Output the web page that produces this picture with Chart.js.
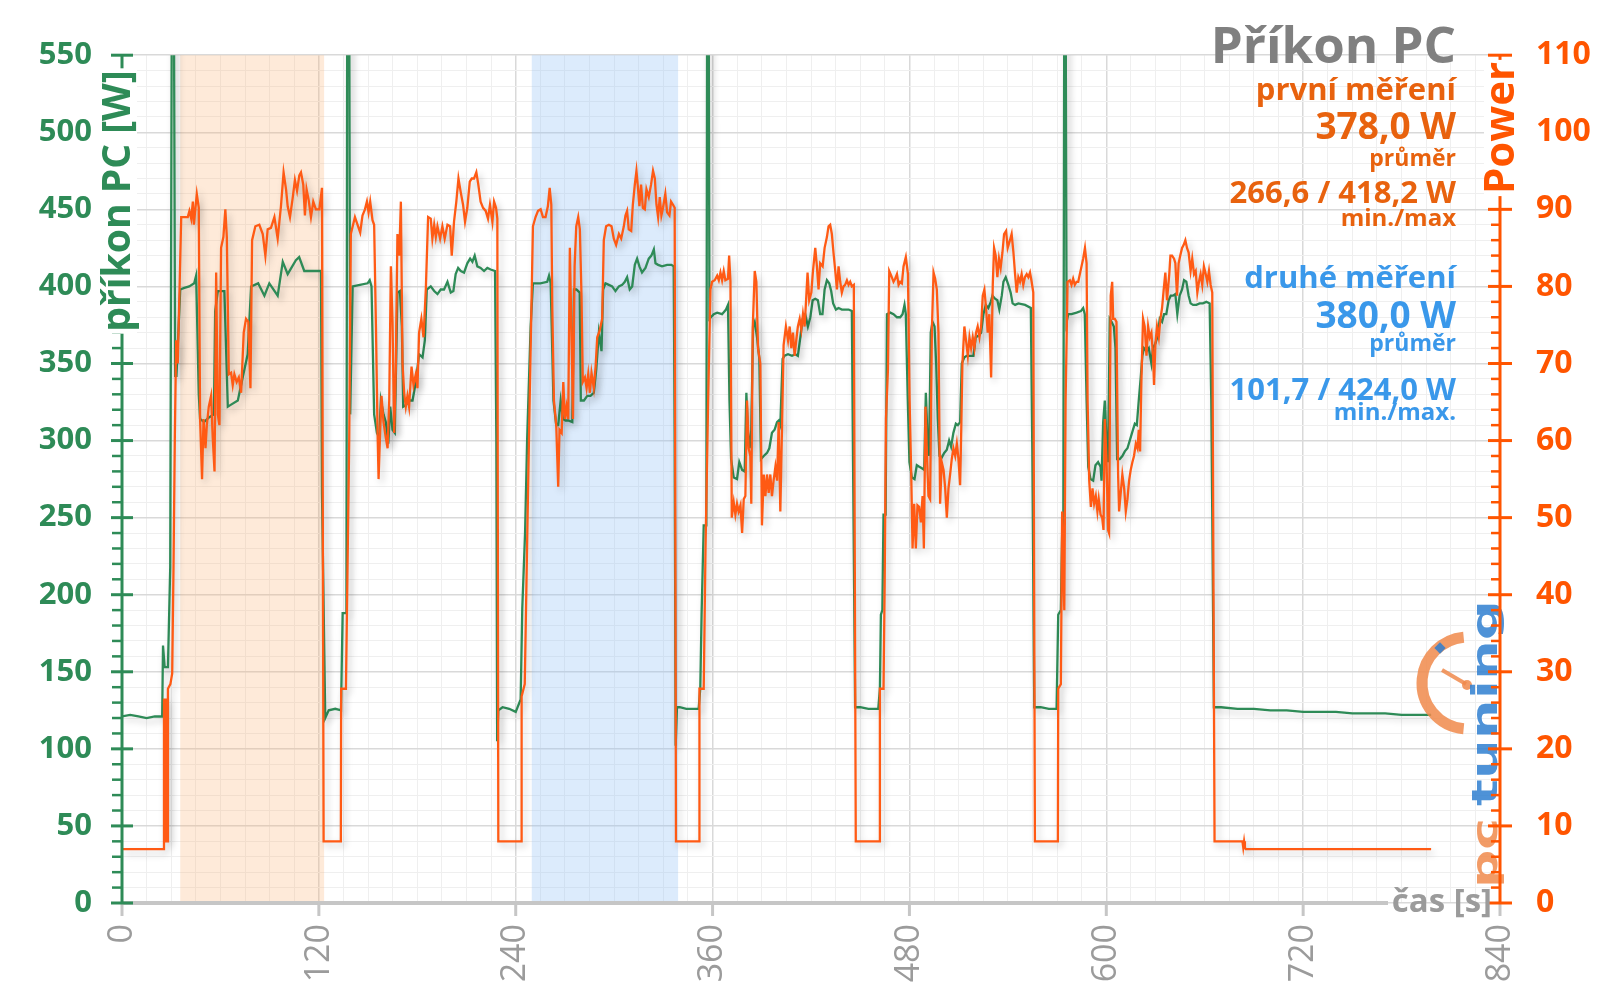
<!DOCTYPE html>
<html lang="cs">
<head>
<meta charset="utf-8">
<title>Příkon PC</title>
<script src="https://cdn.jsdelivr.net/npm/chart.js@4.4.0/dist/chart.umd.min.js"></script>
<style>
	html, body { margin: 0; padding: 0; background: #fff; }
	.chartBox { width: 1600px; height: 998px; position: relative; }
</style>
</head>
<body>
<div class="chartBox"><canvas id="myChart"></canvas></div>
<script>
// --- data (cas [s], hodnota [W]) ---
// zelena krivka - prikon PC (leva osa)
const prikonPC = [
	[0,121],[5,122],[10,121],[15,120],[20,121],[24.5,121],[25,167],[26,153],[28,153],[29.4,218],[30.4,600],[31.6,600],[32.4,342],[33.2,342],[35.5,398],[38,399],[41,400],[44,402],[45.2,407],[46.8,330],[47.6,314],[50,312],[53,315],[56,317],[56.8,384],[58.4,397],[62.4,397],[64.5,322],[66,323],[70.6,326],[73.6,341],[76.6,356],[78.7,400],[83,402],[86.8,394],[89.8,402],[94.9,394],[98,416],[101,408],[106,417],[108,419],[111.1,410],[121.3,410],[121.9,266],[123.9,120],[126,125],[130,126],[133.5,125],[134.5,188],[136.8,188],[137.3,600],[138.5,600],[139.1,317],[140.6,400],[145,401],[149.7,402],[151,404],[152.1,400],[153.7,317],[155.4,305],[156.8,302],[157.8,326],[159.4,317],[160.8,312],[162.3,298],[163.5,322],[164.9,307],[166.3,305],[167.9,396],[169.4,397],[170.6,374],[171.4,322],[173,323],[175,326],[177.1,326],[179.1,338],[181.1,356],[183.2,354],[184.6,365],[185.8,398],[188.2,400],[190.3,397],[192.3,395],[194.3,398],[196.3,398],[198.4,403],[200.4,396],[202,397],[203.4,408],[204.9,412],[206.5,410],[208.5,409],[210.5,415],[212.2,418],[213.6,416],[215,420],[216.6,413],[218.6,412],[220.7,410],[222.7,412],[224.7,411],[227.4,410],[228.2,300],[228.7,105],[229.4,125],[232,127],[236,126],[240,124],[243,132],[244,191],[245.7,240],[247,302],[249.1,374],[250.5,402],[255,402],[259.2,403],[260.3,407],[261.3,402],[263,326],[264.7,310],[265.9,310],[267.4,326],[268.8,314],[270.4,313],[272,313],[274.5,312],[275.5,398],[277,398],[279,396],[279.7,326],[281.6,326],[283.6,329],[285.6,329],[287.6,331],[289.1,346],[290.7,370],[292.3,358],[293.3,398],[294.7,402],[296.8,401],[298.8,400],[300.8,397],[302.9,400],[304.9,401],[306.5,403],[307.9,406],[309.5,398],[311,400],[312.6,414],[314,418],[315.4,413],[317,409],[319.1,412],[321.1,418],[322.7,420],[324.2,424],[325.2,415],[326.8,414],[329.2,413],[332.3,414],[334.9,414],[336.3,413],[336.9,300],[337.5,102],[338.3,127],[340,127],[344,126],[348,126],[351.5,126],[352.5,139],[353.3,187],[354.6,245],[356.2,245],[356.7,600],[357.6,600],[358.1,379],[360.7,382],[362.8,383],[365.8,382],[368.2,385],[369.4,388],[370.3,326],[371.3,288],[372.9,276],[374.9,275],[376.3,286],[378,281],[379.6,280],[380.6,331],[381.6,305],[382.6,295],[383.6,307],[384.7,374],[385.7,377],[387.1,367],[388.5,353],[389.5,288],[391.2,290],[393.2,292],[394.6,295],[396.2,305],[397.8,307],[399.3,312],[400.3,313],[401.3,310],[402.7,353],[403.9,355],[406,356],[408.4,355],[410.4,356],[412,355],[413.5,367],[414.9,379],[416.5,382],[418.1,374],[419.6,380],[421,391],[422.6,392],[424.2,391],[425.6,382],[427,382],[428.3,398],[429.7,404],[431.1,402],[432.3,397],[433.5,389],[435.2,385],[436.8,386],[438.8,385],[442.9,385],[444.9,384],[445.5,302],[446.9,127],[450,127],[455,126],[461,126],[462,139],[462.6,187],[463.5,190],[464.2,252],[465.5,252],[466.3,382],[468.3,383],[470.3,382],[472.4,380],[474.4,380],[475.8,382],[477,388],[477.8,382],[479,326],[480,286],[481.5,276],[483.1,275],[484.5,284],[486,283],[487.6,282],[489,281],[490,331],[491,302],[492,290],[493,370],[494.1,377],[495.3,374],[496.3,350],[497.3,314],[498.3,290],[499.7,289],[501.2,292],[502.8,294],[504.2,300],[505.4,296],[506.8,305],[508.3,311],[509.5,310],[510.9,312],[511.9,350],[513.5,354],[514.9,355],[517,355],[519,355],[520.4,367],[522,368],[523.7,370],[525.1,382],[526.5,388],[528.1,386],[529.6,390],[530.6,394],[532.2,392],[533.6,391],[534.8,385],[536.3,394],[537.3,403],[538.7,406],[540.3,401],[541.7,396],[542.9,389],[544.4,388],[546.4,389],[550.5,388],[554,386],[554.9,295],[556.1,127],[560,127],[565,126],[569.7,126],[570.7,187],[572.3,190],[573.1,240],[573.8,240],[574.4,600],[575.2,600],[575.8,377],[576.8,382],[578.8,382],[581.9,383],[584.5,384],[585.9,386],[586.9,382],[588,326],[589,283],[590.4,275],[592,274],[593.4,284],[595,286],[596.5,283],[597.1,274],[598.1,312],[599.1,326],[600.1,300],[601.1,286],[602.1,379],[603.2,377],[604.6,374],[605.6,360],[606.6,288],[608.2,288],[609.8,290],[611.3,293],[612.9,295],[614.3,300],[615.7,305],[617.4,311],[618.6,310],[619.8,326],[621,341],[622,355],[623,360],[624.5,358],[625.9,360],[627.5,350],[628.5,360],[629.9,363],[631.1,367],[632.6,379],[634,377],[635.2,382],[636.6,382],[638,391],[639.3,394],[640.7,394],[642.1,395],[643.3,382],[644.7,394],[646.2,398],[647.4,404],[648.8,403],[650.2,394],[651.4,389],[652.9,388],[654.9,388],[656.9,389],[658.9,389],[661,390],[663,389],[664,326],[665.6,127],[670,127],[680,126],[690,126],[700,125],[710,125],[720,124],[730,124],[740,124],[750,123],[760,123],[770,123],[780,122],[790,122],[798,122]
];

// oranzova krivka - Power (odectena v jednotkach leve osy)
const power = [
	[0,35],[10,35],[20,35],[25.4,35],[25.6,132],[26.6,132],[26.8,40],[27.8,40],[28,139],[29.5,142],[30.6,149],[31.4,218],[32.2,302],[33,365],[34,350],[36.1,445],[38.1,445],[40.1,445],[41.1,449],[42.2,444],[43.2,455],[43.8,440],[45.6,460],[46.8,451],[47.6,314],[48.8,275],[49.7,314],[50.9,295],[51.7,310],[52.9,322],[54.3,329],[55.3,302],[56.4,280],[57.4,409],[58.4,317],[59.4,310],[60.4,425],[61.8,432],[63,450],[63.9,432],[65.1,343],[66.5,344],[67.5,336],[68.5,343],[69.9,338],[71.2,341],[72.6,331],[74.2,370],[75.6,379],[77,377],[78.3,334],[79.3,430],[81.3,439],[83.7,440],[85.8,434],[87.4,420],[88.8,437],[90.8,438],[92.9,445],[94.9,431],[96.9,452],[98.5,474],[100,463],[101,452],[102.4,445],[104,457],[105.4,469],[106.7,462],[108.1,472],[109.1,474],[110.5,466],[111.5,446],[112.5,463],[113.8,456],[115.2,445],[116.6,455],[118.2,450],[120.3,450],[121.9,464],[122.9,40],[133.4,40],[133.6,139],[136.5,139],[138.5,300],[139.5,434],[142,445],[143.6,440],[145.2,435],[146.6,446],[148.1,450],[149.3,455],[150.3,448],[151.3,455],[152.7,443],[153.7,440],[154.8,374],[155.8,305],[156.4,275],[157.4,307],[158.2,329],[159.4,312],[160.8,302],[161.9,295],[162.9,326],[163.9,413],[164.9,377],[165.9,305],[166.9,346],[167.9,434],[169,420],[170,455],[171,350],[172,331],[173,322],[174,329],[175,322],[176.5,348],[177.7,336],[179.1,343],[180.1,334],[181.1,370],[182.5,379],[183.8,367],[185.2,398],[186.6,445],[188.2,444],[189.2,431],[190.3,440],[191.3,432],[192.3,439],[193.9,431],[195.3,439],[196.7,431],[198.4,440],[200,439],[201,420],[202.4,442],[203.8,455],[205.1,470],[206.5,461],[207.9,453],[209.1,442],[210.5,451],[212,468],[213.2,470],[214.6,470],[216,474],[217.2,466],[218.6,455],[220.1,451],[221.7,449],[223.1,444],[224.3,453],[225.8,442],[226.8,455],[228,451],[228.8,444],[229.4,40],[243.4,40],[243.6,134],[245.5,142],[247.1,242],[248.5,326],[250.5,439],[252.1,445],[253.6,449],[255.2,450],[256.6,445],[258.2,445],[259.6,452],[260.7,464],[261.7,453],[262.3,386],[263.3,326],[264.7,310],[265.9,270],[266.7,307],[268,305],[269,338],[270,314],[271,322],[272,314],[273,425],[274,370],[274.9,314],[275.9,413],[276.9,439],[278.1,445],[279.1,437],[280.1,394],[280.9,338],[282.2,341],[283.2,334],[284.2,343],[285.2,331],[286.2,344],[287.6,334],[288.7,348],[289.7,367],[291.1,371],[292.7,379],[293.7,430],[295.1,439],[296.8,440],[298.4,439],[299.8,431],[301.2,427],[302.9,434],[304.3,431],[305.9,439],[306.9,446],[307.9,449],[308.9,437],[310.4,436],[311.4,453],[312.6,466],[313.6,475],[314.6,463],[315.4,452],[316.4,466],[317.5,451],[318.7,450],[319.7,463],[321.1,458],[322.5,466],[323.7,475],[324.8,470],[325.8,453],[326.8,445],[327.8,458],[328.8,446],[329.8,451],[331.2,460],[332.3,448],[333.7,446],[334.7,455],[335.9,453],[336.9,451],[337.7,40],[351.8,40],[352,139],[354.6,139],[355.7,230],[357.3,326],[358.7,398],[359.7,403],[361.3,404],[362.8,407],[363.8,404],[364.8,409],[365.8,404],[366.8,410],[367.8,404],[369.4,405],[370.1,420],[370.9,403],[371.7,250],[372.9,260],[373.9,252],[374.9,259],[375.9,254],[377,258],[378,240],[379,262],[380,264],[381,326],[382,295],[383,290],[383.6,259],[384.5,374],[385.7,410],[386.7,403],[387.7,360],[389.1,350],[390.1,245],[391.2,278],[392.2,264],[393.2,278],[394.2,266],[395.2,278],[396.2,264],[397.2,274],[398.3,283],[399.3,274],[400.3,312],[401.3,254],[402.3,307],[403.3,362],[404.7,374],[406,365],[407,374],[408,360],[409,370],[410,355],[411,365],[412,374],[413.1,379],[414.1,372],[415.1,382],[416.1,374],[416.9,389],[417.9,409],[418.9,391],[420.2,396],[421.2,410],[422.6,425],[423.6,413],[424.6,398],[425.6,415],[427.1,413],[428.3,425],[429.7,432],[430.7,439],[431.7,440],[432.7,434],[433.7,422],[434.8,410],[435.8,398],[436.8,413],[437.8,403],[438.8,396],[439.8,400],[440.8,401],[441.9,404],[442.9,401],[443.9,403],[444.9,400],[446.1,401],[447.3,40],[461.8,40],[462,139],[464.2,139],[464.9,206],[465.7,314],[466.9,346],[467.7,410],[468.9,407],[470.3,403],[471.3,405],[472.4,408],[473.4,401],[474.4,403],[475.4,402],[476.4,413],[477.8,419],[479.1,408],[480.1,326],[481.1,278],[481.9,230],[482.9,259],[483.9,230],[484.9,258],[485.9,257],[487,247],[488,264],[488.8,230],[489.8,322],[490.6,293],[491.6,264],[492.6,262],[493.7,372],[494.7,409],[495.7,405],[496.7,398],[497.7,370],[498.7,259],[499.7,286],[500.8,281],[501.8,269],[502.8,250],[503.8,269],[504.8,278],[505.8,288],[506.8,295],[507.9,290],[508.9,298],[509.9,288],[510.9,271],[511.5,302],[512.3,350],[513.5,374],[514.5,365],[515.6,355],[516.6,367],[517.6,360],[518.6,367],[519.6,360],[520.6,370],[521.6,374],[522.7,367],[523.7,374],[524.7,394],[525.7,398],[526.7,386],[527.7,370],[528.7,382],[529.8,341],[530.8,401],[531.6,425],[532.6,420],[533.6,406],[534.6,418],[535.6,412],[536.7,422],[537.7,434],[538.9,436],[539.9,425],[541.3,430],[542.3,434],[543.4,422],[544.4,408],[545.4,396],[546.4,406],[547.4,403],[548.4,408],[549.4,401],[550.4,406],[551.5,408],[552.5,406],[553.5,409],[554.5,403],[555.5,396],[556.5,40],[570.5,40],[570.7,139],[572.3,142],[573.1,254],[574.4,190],[575.2,326],[576.4,403],[577.8,404],[578.8,401],[579.8,405],[580.8,401],[581.9,403],[582.9,403],[583.9,408],[584.9,413],[585.9,418],[587,425],[588,415],[588.6,326],[589.6,274],[590.6,257],[591.6,269],[592.6,259],[593.6,264],[594.6,254],[595.4,262],[596.5,252],[597.5,250],[598.3,242],[599.1,314],[600.1,288],[601.1,242],[601.7,240],[602.7,394],[603.6,403],[604.2,379],[605.2,379],[606.2,377],[607.2,278],[607.8,254],[608.8,266],[609.8,278],[610.9,269],[611.9,254],[612.9,262],[613.9,274],[614.9,281],[615.9,286],[616.9,290],[618,298],[619,295],[619.8,307],[620.6,293],[621.4,338],[622.4,379],[623.4,374],[624.5,355],[625.5,374],[626.5,367],[627.5,370],[628.5,355],[629.1,336],[629.9,362],[630.9,374],[632,367],[633,379],[634,386],[635,398],[636,409],[637,391],[638.4,408],[639.1,420],[640.1,420],[641.3,418],[642.1,415],[643.1,394],[644.1,415],[645.1,420],[646.2,425],[647.2,427],[648.2,430],[649.2,425],[650.2,422],[651.4,410],[652.4,418],[653.5,408],[654.5,410],[655.5,396],[656.5,403],[657.5,408],[658.5,401],[659.5,413],[660.6,408],[661.6,403],[662.6,410],[663.6,401],[664.6,396],[666,40],[683,40],[683.5,36],[684,40],[684.5,36],[685,35],[798,35]
];

// zvyraznene useky mereni [od, do] v s
const usekPrvni = [35.5, 123.2];
const usekDruhe = [249.8, 339];

// popisky os
const casPopisky = [0, 120, 240, 360, 480, 600, 720, 840];
const prikonPopisky = [0, 50, 100, 150, 200, 250, 300, 350, 400, 450, 500, 550];
const powerPopisky = [0, 10, 20, 30, 40, 50, 60, 70, 80, 90, 100, 110];

// texty vpravo nahore
const nadpis = 'Příkon PC';
const prvniTexty = ['první měření', '378,0 W', 'průměr', '266,6 / 418,2 W', 'min./max'];
const druheTexty = ['druhé měření', '380,0 W', 'průměr', '101,7 / 424,0 W', 'min./max.'];

const ZELENA = '#2e8b57';
const ORANZ = '#ff5a14';
const ORANZ_OSA = '#ff5500';
const ORANZ_TEXT = '#e8620e';
const MODRA = '#3a98ea';
const SEDA = '#9b9b9b';
const FONT = '"Open Sans", "DejaVu Sans", sans-serif';

function rotText(ctx, text, x, y, font, color, bg) {
	ctx.save();
	ctx.translate(x, y);
	ctx.rotate(-Math.PI / 2);
	ctx.font = font;
	ctx.textAlign = 'center';
	ctx.textBaseline = 'middle';
	if (bg) {
		const w = ctx.measureText(text).width;
		ctx.fillStyle = '#fff';
		ctx.fillRect(-w / 2 - 2, -18, w + 4, 36);
	}
	ctx.fillStyle = color;
	ctx.fillText(text, 0, 0);
	ctx.restore();
}

const kresba = {
	id: 'kresba',
	beforeDatasetsDraw(chart) {
		const { ctx, chartArea: a, scales: { x } } = chart;
		ctx.save();
		ctx.fillStyle = 'rgba(250,172,110,0.26)';
		let x1 = x.getPixelForValue(usekPrvni[0]);
		let x2 = x.getPixelForValue(usekPrvni[1]);
		ctx.fillRect(x1, a.top, x2 - x1, a.bottom - a.top);
		ctx.fillStyle = 'rgba(150,195,245,0.33)';
		x1 = x.getPixelForValue(usekDruhe[0]);
		x2 = x.getPixelForValue(usekDruhe[1]);
		ctx.fillRect(x1, a.top, x2 - x1, a.bottom - a.top);
		ctx.restore();
	},
	beforeDatasetDraw(chart) {
		const ctx = chart.ctx;
		ctx.save();
		ctx.shadowColor = 'rgba(0,0,0,0.22)';
		ctx.shadowBlur = 7;
		ctx.shadowOffsetX = 3;
		ctx.shadowOffsetY = 4;
	},
	afterDatasetDraw(chart) {
		chart.ctx.restore();
	},
	afterDatasetsDraw(chart) {
		// logo
		const ctx = chart.ctx;
		ctx.save();
		ctx.globalAlpha = 0.85;
		ctx.strokeStyle = '#f08a4b';
		ctx.lineWidth = 11;
		ctx.beginPath();
		ctx.arc(1468, 683, 46, 0.53 * Math.PI, 1.47 * Math.PI);
		ctx.stroke();
		ctx.lineWidth = 4;
		ctx.beginPath();
		ctx.moveTo(1442, 670);
		ctx.lineTo(1466, 684);
		ctx.stroke();
		ctx.fillStyle = '#f08a4b';
		ctx.beginPath();
		ctx.arc(1467, 685, 5, 0, 2 * Math.PI);
		ctx.fill();
		ctx.fillStyle = '#2f7fd0';
		ctx.save();
		ctx.translate(1440, 648);
		ctx.rotate(-Math.PI / 4);
		ctx.fillRect(-4, -4, 8, 8);
		ctx.restore();
		const logo = (text, y0, len, color) => {
			ctx.save();
			ctx.translate(1497, y0);
			ctx.rotate(-Math.PI / 2);
			ctx.font = 'bold 36px "DejaVu Sans", sans-serif';
			const w = ctx.measureText(text).width;
			ctx.scale(len / w, 1);
			ctx.textAlign = 'left';
			ctx.textBaseline = 'alphabetic';
			ctx.fillStyle = color;
			ctx.fillText(text, 0, 0);
			ctx.restore();
		};
		logo('tuning', 806, 206, '#2f7fd0');
		logo('pc', 888, 70, '#f08a4b');
		ctx.restore();
	},
	afterDraw(chart) {
		const { ctx, chartArea: a, scales: { x, y, y1 } } = chart;
		ctx.save();
		ctx.lineCap = 'butt';

		// osa x
		ctx.strokeStyle = '#c6c6c6';
		ctx.lineWidth = 4;
		ctx.beginPath();
		ctx.moveTo(a.left, a.bottom);
		ctx.lineTo(1388, a.bottom);
		ctx.stroke();
		ctx.lineWidth = 3;
		casPopisky.forEach((v) => {
			const px = x.getPixelForValue(v);
			ctx.beginPath();
			ctx.moveTo(px, a.bottom);
			ctx.lineTo(px, a.bottom + 13);
			ctx.stroke();
		});

		// leva osa
		ctx.strokeStyle = ZELENA;
		ctx.lineWidth = 3;
		ctx.beginPath();
		ctx.moveTo(a.left, a.top);
		ctx.lineTo(a.left, a.bottom);
		ctx.stroke();
		for (let v = 0; v <= 550; v += 10) {
			const py = y.getPixelForValue(v);
			ctx.beginPath();
			if (v % 50 === 0) {
				ctx.lineWidth = 3;
				ctx.moveTo(a.left - 11, py);
				ctx.lineTo(a.left + 11, py);
			} else {
				ctx.lineWidth = 2.5;
				ctx.moveTo(a.left - 10, py);
				ctx.lineTo(a.left, py);
			}
			ctx.stroke();
		}

		// prava osa
		ctx.strokeStyle = ORANZ_OSA;
		ctx.lineWidth = 3;
		ctx.beginPath();
		ctx.moveTo(a.right, a.top);
		ctx.lineTo(a.right, a.bottom);
		ctx.stroke();
		for (let v = 0; v <= 110; v += 2) {
			const py = y1.getPixelForValue(v);
			ctx.beginPath();
			if (v % 10 === 0) {
				ctx.lineWidth = 3;
				ctx.moveTo(a.right - 12, py);
				ctx.lineTo(a.right + 12, py);
			} else {
				ctx.lineWidth = 2.5;
				ctx.moveTo(a.right - 9, py);
				ctx.lineTo(a.right, py);
			}
			ctx.stroke();
		}

		// nazvy os
		rotText(ctx, 'příkon PC [W]', 119, 201, `bold 39px ${FONT}`, ZELENA, true);
		rotText(ctx, 'Power', 1502, 128, `bold 42px ${FONT}`, ORANZ_OSA, true);

		ctx.font = `bold 33px ${FONT}`;
		ctx.textAlign = 'right';
		ctx.textBaseline = 'middle';
		ctx.fillStyle = SEDA;
		ctx.fillText('čas [s]', 1492, a.bottom);

		// nadpis a legenda
		const R = 1456;
		ctx.textBaseline = 'alphabetic';
		ctx.font = `bold 51px ${FONT}`;
		ctx.fillStyle = '#808080';
		ctx.fillText(nadpis, R, 63);
		const velikosti = [31, 37, 23, 31, 24];
		const prvniY = [100, 139, 166, 203, 226];
		const druheY = [288, 328, 351, 400, 420];
		prvniTexty.forEach((t, i) => {
			ctx.font = `bold ${velikosti[i]}px ${FONT}`;
			ctx.fillStyle = ORANZ_TEXT;
			ctx.fillText(t, R, prvniY[i]);
		});
		druheTexty.forEach((t, i) => {
			ctx.font = `bold ${velikosti[i]}px ${FONT}`;
			ctx.fillStyle = MODRA;
			ctx.fillText(t, R, druheY[i]);
		});
		ctx.restore();
	},
};

const data = {
	datasets: [
		{
			label: 'Power',
			data: power.map(([t, w]) => ({ x: t, y: w })),
			borderColor: ORANZ,
			borderWidth: 2.3,
			pointRadius: 0,
			tension: 0,
			yAxisID: 'y',
		},
		{
			label: 'příkon PC [W]',
			data: prikonPC.map(([t, w]) => ({ x: t, y: w })),
			borderColor: ZELENA,
			borderWidth: 2.3,
			pointRadius: 0,
			tension: 0,
			yAxisID: 'y',
		},
	],
};

const config = {
	type: 'line',
	data,
	plugins: [kresba],
	options: {
		animation: false,
		responsive: true,
		maintainAspectRatio: false,
		layout: { padding: { top: 54, left: 0, right: 0, bottom: 0 } },
		plugins: {
			legend: { display: false },
			tooltip: { enabled: false },
		},
		scales: {
			x: {
				type: 'linear',
				min: 0,
				max: 840,
				afterFit: (s) => {
					s.height = 95;
				},
				border: { display: false },
				grid: {
					drawTicks: false,
					color: (c) => (c.tick && c.tick.value % 120 === 0 ? '#d9d9d9' : '#efefef'),
					lineWidth: (c) => (c.tick && c.tick.value % 120 === 0 ? 1.5 : 1),
				},
				ticks: {
					stepSize: 15,
					autoSkip: false,
					minRotation: 90,
					maxRotation: 90,
					padding: 21,
					color: SEDA,
					font: { family: FONT, size: 34 },
					callback: (v) => (casPopisky.includes(v) ? String(v) : ''),
				},
			},
			y: {
				type: 'linear',
				position: 'left',
				min: 0,
				max: 550,
				afterFit: (s) => {
					s.width = 122;
				},
				border: { display: false },
				grid: {
					drawTicks: false,
					color: (c) => (c.tick && c.tick.value % 50 === 0 ? '#d9d9d9' : '#efefef'),
					lineWidth: (c) => (c.tick && c.tick.value % 50 === 0 ? 1.5 : 1),
				},
				ticks: {
					stepSize: 10,
					autoSkip: false,
					padding: 30,
					color: ZELENA,
					font: { family: FONT, size: 31, weight: 'bold' },
					callback: (v) => (prikonPopisky.includes(v) ? String(v) : ''),
				},
			},
			y1: {
				type: 'linear',
				position: 'right',
				min: 0,
				max: 110,
				afterFit: (s) => {
					s.width = 100;
				},
				border: { display: false },
				grid: { display: false, drawTicks: false },
				ticks: {
					stepSize: 2,
					autoSkip: false,
					padding: 36,
					color: ORANZ_OSA,
					font: { family: FONT, size: 32, weight: 'bold' },
					callback: (v) => (powerPopisky.includes(v) ? String(v) : ''),
				},
			},
		},
	},
};

const myChart = new Chart(document.getElementById('myChart'), config);
</script>
</body>
</html>
